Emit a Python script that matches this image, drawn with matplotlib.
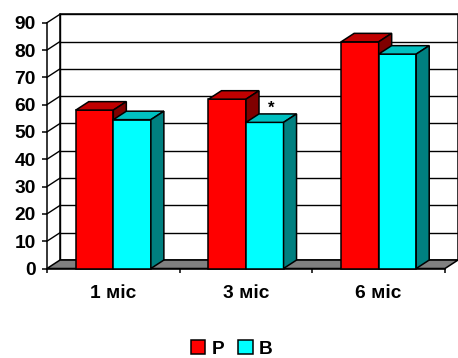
import matplotlib
matplotlib.use("Agg")
import matplotlib.pyplot as plt
from matplotlib.patches import Polygon, Patch
import numpy as np

plt.rcParams["font.family"] = ["Liberation Sans", "DejaVu Sans"]
plt.rcParams["font.weight"] = "bold"

categories = ["1 міс", "3 міс", "6 міс"]
series_names = ["Р", "В"]
values_p = [58, 62, 83]
values_b = [54.5, 53.5, 78.5]
marks_b = ["", "*", ""]

face_colors = ["#ff0000", "#00ffff"]
top_colors = ["#c00000", "#00c0c0"]
side_colors = ["#800000", "#008080"]

# depth of the pseudo-3D box, in data units
DX = 0.098
DY = 3.1
BAR_W = 0.283
YMAX = 90


def poly(ax, pts, fc, z, lw=1.1):
    p = Polygon(pts, closed=True, facecolor=fc, edgecolor="black",
                linewidth=lw, zorder=z, clip_on=False, joinstyle="miter")
    ax.add_patch(p)


def draw_bar(ax, x0, h, k, z):
    x1 = x0 + BAR_W
    poly(ax, [(x0, 0), (x1, 0), (x1, h), (x0, h)], face_colors[k], z)
    poly(ax, [(x0, h), (x1, h), (x1 + DX, h + DY), (x0 + DX, h + DY)], top_colors[k], z)
    poly(ax, [(x1, 0), (x1 + DX, DY), (x1 + DX, h + DY), (x1, h)], side_colors[k], z)


fig = plt.figure(figsize=(4.58, 3.58), dpi=100)
ax = fig.add_axes([47 / 458, 1 - 268.5 / 358, 398 / 458, 245.8 / 358])
ax.set_xlim(0, len(categories))
ax.set_ylim(0, YMAX)

n = len(categories)
ticks = np.arange(0, YMAX + 1, 10)

# walls and gridlines
poly(ax, [(DX, DY), (n + DX, DY), (n + DX, YMAX + DY), (DX, YMAX + DY)], "white", 1)
for v in ticks[1:]:
    ax.plot([DX, n + DX], [v + DY, v + DY], color="black", lw=1.0, zorder=1.5, clip_on=False)
    ax.plot([0, DX], [v, v + DY], color="black", lw=1.0, zorder=1.5, clip_on=False)
ax.plot([DX, DX], [DY, YMAX + DY], color="black", lw=1.0, zorder=1.5, clip_on=False)

# floor
poly(ax, [(0, 0), (n, 0), (n + DX, DY), (DX, DY)], "#808080", 2)

for i in range(n):
    draw_bar(ax, i + 0.5 - BAR_W, values_p[i], 0, 3 + i * 2)
    draw_bar(ax, i + 0.5, values_b[i], 1, 4 + i * 2)
    if marks_b[i]:
        ax.text(i + 0.5 + BAR_W / 2 + DX / 2, values_b[i] + DY + 2.0, marks_b[i],
                ha="center", va="center", fontsize=12, zorder=10)

for s in ["top", "right"]:
    ax.spines[s].set_visible(False)
ax.spines["left"].set_linewidth(1.1)
ax.spines["bottom"].set_linewidth(1.1)
ax.spines["left"].set_zorder(2.5)
ax.spines["bottom"].set_zorder(2.5)

ax.set_yticks(ticks)
ax.set_yticklabels([str(t) for t in ticks])
ax.tick_params(axis="y", direction="out", length=3.6, width=1.1, pad=4.5, labelsize=13.8)

ax.set_xticks(np.arange(0, n + 1))
ax.set_xticklabels([])
ax.set_xticks(np.arange(n) + 0.5, minor=True)
ax.set_xticklabels(categories, minor=True)
ax.tick_params(axis="x", which="major", direction="out", length=3.2, width=1.1)
ax.tick_params(axis="x", which="minor", length=0, pad=12, labelsize=13.8)

handles = [Patch(facecolor=face_colors[k], edgecolor="black", linewidth=1.1) for k in range(2)]
fig.legend(handles, series_names, loc="center", bbox_to_anchor=(232 / 458, 1 - 349 / 358),
           ncol=2, frameon=False, fontsize=13.8, handlelength=0.75, handleheight=0.75,
           handletextpad=0.35, columnspacing=0.7, borderpad=0)

fig.savefig("out.png", dpi=100)
